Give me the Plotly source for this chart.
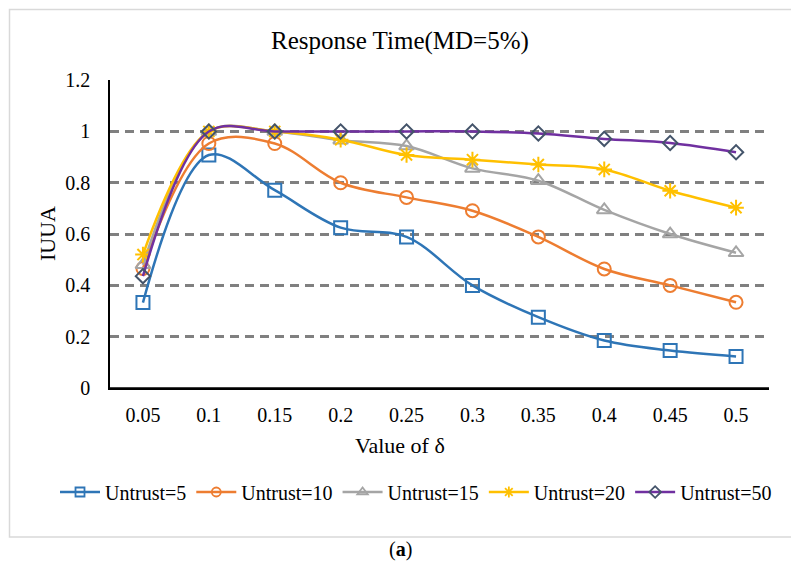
import plotly.graph_objects as go

categories = ["0.05", "0.1", "0.15", "0.2", "0.25", "0.3", "0.35", "0.4", "0.45", "0.5"]
untrust5 = [0.333, 0.908, 0.771, 0.625, 0.589, 0.400, 0.276, 0.185, 0.146, 0.123]
untrust10 = [0.466, 0.953, 0.953, 0.800, 0.743, 0.691, 0.589, 0.464, 0.400, 0.334]
untrust15 = [0.480, 1.0, 1.0, 0.966, 0.943, 0.856, 0.808, 0.694, 0.600, 0.527]
untrust20 = [0.520, 1.0, 1.0, 0.968, 0.908, 0.890, 0.871, 0.852, 0.769, 0.703]
untrust50 = [0.436, 1.0, 1.0, 1.0, 1.0, 1.0, 0.992, 0.971, 0.955, 0.919]

series_names = ["Untrust=5", "Untrust=10", "Untrust=15", "Untrust=20", "Untrust=50"]

FONT = "Liberation Serif"

styles = [
    dict(color="#2E75B6", symbol="square-open", size=13, mcolor="#2E75B6"),
    dict(color="#ED7D31", symbol="circle-open", size=13, mcolor="#ED7D31"),
    dict(color="#A5A5A5", symbol="triangle-up-open", size=13, mcolor="#A5A5A5"),
    dict(color="#FFC000", symbol="asterisk-open", size=13, mcolor="#FFC000"),
    dict(color="#7030A0", symbol="diamond-open", size=11, mcolor="#44546A"),
]

fig = go.Figure()
for name, vals, st in zip(series_names, [untrust5, untrust10, untrust15, untrust20, untrust50], styles):
    fig.add_trace(go.Scatter(
        x=categories, y=vals, name=name, mode="lines+markers", showlegend=False,
        line=dict(color=st["color"], width=2.5, shape="spline", smoothing=1.0),
        marker=dict(symbol=st["symbol"], size=st["size"],
                    line=dict(color=st["mcolor"], width=2), color=st["mcolor"]),
    ))
# legend entries (smaller markers, as in the reference legend)
for name, st in zip(series_names, styles):
    fig.add_trace(go.Scatter(
        x=[None], y=[None], name=name, mode="lines+markers", showlegend=True,
        line=dict(color=st["color"], width=2.5),
        marker=dict(symbol=st["symbol"], size=9,
                    line=dict(color=st["mcolor"], width=1.8), color=st["mcolor"]),
    ))

# page body adds an 8px offset; positions below are in screenshot pixels
OFF = 8
W, H = 799, 571
L = 110 - OFF
T = 80 - OFF
R = W - (769 - OFF)
B = H - (388 - OFF)
pw, ph = W - L - R, H - T - B

def px_x(p):
    return (p - OFF - L) / pw

def px_y(p):
    return (H - B - (p - OFF)) / ph

fig.update_layout(
    width=W, height=H,
    margin=dict(l=L, r=R, t=T, b=B),
    paper_bgcolor="white", plot_bgcolor="white",
    font=dict(family=FONT, size=18, color="#000000"),
    showlegend=True,
    legend=dict(orientation="h", x=px_x(55), xanchor="left", y=px_y(492), yanchor="middle",
                font=dict(family=FONT, size=20), itemwidth=40, tracegroupgap=0,
                bgcolor="rgba(0,0,0,0)"),
    xaxis=dict(type="category", range=[-0.5, 9.5], showgrid=False, showline=True,
               linecolor="#000000", linewidth=1.5, automargin=False,
               ticks="", tickfont=dict(family=FONT, size=20), zeroline=False, ticklabelstandoff=8),
    yaxis=dict(range=[0, 1.2005], tickvals=[0, 0.2, 0.4, 0.6, 0.8, 1.0, 1.2],
               ticktext=["0", "0.2", "0.4", "0.6", "0.8", "1", "1.2"], automargin=False,
               showgrid=True, gridcolor="#808080", gridwidth=2.5,
               griddash="9px,6px", showline=True, linecolor="#000000", linewidth=1.5, ticks="",
               tickfont=dict(family=FONT, size=20), zeroline=False, ticklabelstandoff=14),
    shapes=[
        dict(type="rect", xref="paper", yref="paper", x0=px_x(9.5), x1=px_x(793), y0=px_y(537), y1=px_y(9.5),
             line=dict(color="#D9D9D9", width=1.5), fillcolor="rgba(0,0,0,0)", layer="below"),
        dict(type="line", xref="paper", yref="y", x0=0, x1=1, y0=0, y1=0,
             line=dict(color="#000000", width=1.5)),
    ],
    annotations=[
        dict(text="Response Time(MD=5%)", xref="paper", yref="paper", x=px_x(400), y=px_y(41),
             showarrow=False, font=dict(family=FONT, size=25), xanchor="center", yanchor="middle"),
        dict(text="IUUA", xref="paper", yref="paper", x=px_x(47), y=px_y(234), textangle=-90,
             showarrow=False, font=dict(family=FONT, size=22), xanchor="center", yanchor="middle"),
        dict(text="Value of δ", xref="paper", yref="paper", x=px_x(400), y=px_y(446),
             showarrow=False, font=dict(family=FONT, size=22), xanchor="center", yanchor="middle"),
        dict(text="(<b>a</b>)", xref="paper", yref="paper", x=px_x(400), y=px_y(549),
             showarrow=False, font=dict(family=FONT, size=20), xanchor="center", yanchor="middle"),
    ],
)

fig.write_html("out.html")
